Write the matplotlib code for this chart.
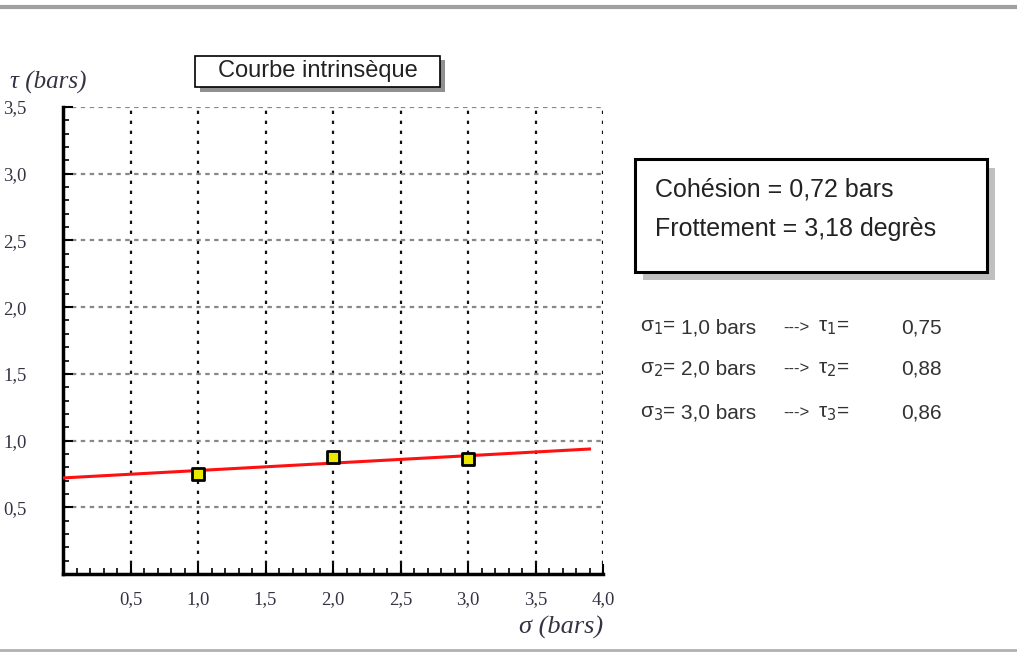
import numpy as np
import matplotlib
matplotlib.use("Agg")
import matplotlib.pyplot as plt
from matplotlib.patches import Rectangle
from matplotlib.ticker import MultipleLocator, FixedLocator

sigma = [1.0, 2.0, 3.0]
tau = [0.75, 0.88, 0.86]
cohesion = 0.72
friction_deg = 3.18
line_x = [0.0, 3.9]
xticks = [0.5, 1.0, 1.5, 2.0, 2.5, 3.0, 3.5, 4.0]
yticks = [0.5, 1.0, 1.5, 2.0, 2.5, 3.0, 3.5]
title = "Courbe intrinsèque"

W, H = 1017, 653
fig = plt.figure(figsize=(W / 100, H / 100), dpi=100)
fig.patch.set_facecolor("white")

def fx(px):
    return px / W

def fy(py):
    return 1 - py / H

ax = fig.add_axes([fx(63), fy(574), fx(603) - fx(63), fy(107) - fy(574)])
ax.set_xlim(0, 4.0)
ax.set_ylim(0, 3.5)
for s in ["top", "right"]:
    ax.spines[s].set_visible(False)
for s in ["left", "bottom"]:
    ax.spines[s].set_linewidth(2.5)
    ax.spines[s].set_color("black")

ax.xaxis.set_major_locator(FixedLocator(xticks))
ax.yaxis.set_major_locator(FixedLocator(yticks))
ax.xaxis.set_minor_locator(MultipleLocator(0.1))
ax.yaxis.set_minor_locator(MultipleLocator(0.1))
ax.tick_params(which="major", direction="in", length=7, width=1.5, color="black")
ax.tick_params(which="minor", direction="in", length=4, width=1.2, color="black")
ax.set_xticklabels([f"{v:.1f}".replace(".", ",") for v in xticks],
                   family="Liberation Serif", fontsize=13.5, color="#333344")
ax.set_yticklabels([f"{v:.1f}".replace(".", ",") for v in yticks],
                   family="Liberation Serif", fontsize=13.5, color="#333344")
ax.tick_params(axis="x", pad=12)
ax.tick_params(axis="y", pad=26)

for v in xticks:
    ax.axvline(v, color="#111111", lw=1.6, ls=(0, (1.5, 3)), zorder=1)
for v in yticks:
    ax.axhline(v, color="#888888", lw=1.6, ls=(0, (2, 2)), zorder=1)

lx = np.array(line_x)
ly = cohesion + np.tan(np.radians(friction_deg)) * lx
ax.plot(lx, ly, color="#ff1010", lw=2.2, zorder=3)
ax.scatter(sigma, tau, s=70, marker="s", facecolor="#e8e800", edgecolor="black",
           linewidth=2.0, zorder=4)

fig.text(fx(10), fy(82), "τ (bars)", family="Liberation Serif", style="italic",
         fontsize=18, color="#333344", va="center", ha="left")
fig.text(fx(519), fy(627), "σ (bars)", family="Liberation Serif", style="italic",
         fontsize=19, color="#333344", va="center", ha="left")

# top / bottom separators
fig.add_artist(plt.Line2D([0, 1], [fy(7), fy(7)], color="#a0a0a0", lw=3))
fig.add_artist(plt.Line2D([0, 1], [fy(650), fy(650)], color="#b0b0b0", lw=2))

# title box with shadow
fig.add_artist(Rectangle((fx(200), fy(92)), fx(445) - fx(200), fy(60) - fy(92),
                         facecolor="#909090", edgecolor="none", zorder=2))
fig.add_artist(Rectangle((fx(195), fy(87)), fx(440) - fx(195), fy(56) - fy(87),
                         facecolor="white", edgecolor="black", lw=1.2, zorder=3))
fig.text(fx(318), fy(71), title, family="Liberation Sans", fontsize=17,
         color="#222222", ha="center", va="center", zorder=4)

# info box with shadow
fig.add_artist(Rectangle((fx(643), fy(280)), fx(995) - fx(643), fy(168) - fy(280),
                         facecolor="#c0c0c0", edgecolor="none", zorder=2))
fig.add_artist(Rectangle((fx(635), fy(272)), fx(987) - fx(635), fy(159) - fy(272),
                         facecolor="white", edgecolor="black", lw=2.2, zorder=3))
fig.text(fx(655), fy(190), f"Cohésion = {cohesion:.2f}".replace(".", ",") + " bars",
         family="Liberation Sans", fontsize=18, color="#222222", va="center", zorder=4)
fig.text(fx(655), fy(229), f"Frottement = {friction_deg:.2f}".replace(".", ",") + " degrès",
         family="Liberation Sans", fontsize=18, color="#222222", va="center", zorder=4)

rows_y = [328, 369, 413]
for i, (s, t) in enumerate(zip(sigma, tau)):
    yy = fy(rows_y[i])
    fig.text(fx(640), yy, f"σ$_{{{i+1}}}$=", family="Liberation Sans",
             fontsize=15, color="#333333", va="center")
    fig.text(fx(681), yy, f"{s:.1f}".replace(".", ",") + " bars",
             family="Liberation Sans", fontsize=15, color="#333333", va="center")
    fig.text(fx(783), yy, "--->", family="Liberation Sans",
             fontsize=12, color="#333333", va="center")
    fig.text(fx(818), yy, f"τ$_{{{i+1}}}$=", family="Liberation Sans",
             fontsize=15, color="#333333", va="center")
    fig.text(fx(901), yy, f"{t:.2f}".replace(".", ","),
             family="Liberation Sans", fontsize=15, color="#333333", va="center")

fig.savefig("out.png", dpi=100)
